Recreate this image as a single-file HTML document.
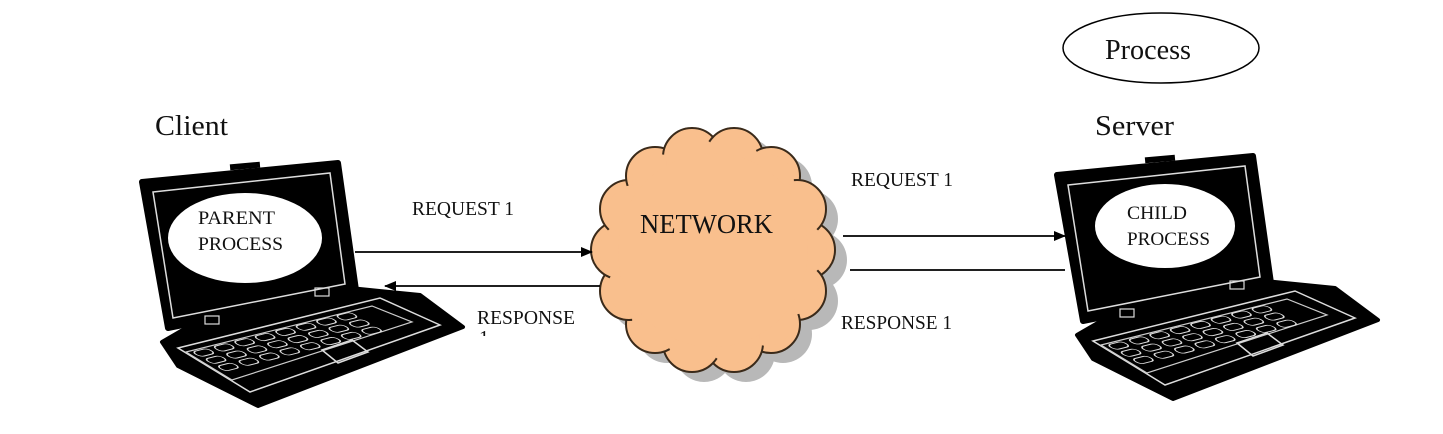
<!DOCTYPE html>
<html><head><meta charset="utf-8"><style>
html,body{margin:0;padding:0;background:#fff;}
svg{display:block;}
text{font-family:"Liberation Serif",serif;fill:#111;}
</style></head><body>
<svg width="1443" height="434" viewBox="0 0 1443 434" xmlns="http://www.w3.org/2000/svg">
<defs>
<marker id="ah" markerWidth="12" markerHeight="10" refX="11" refY="5" orient="auto" markerUnits="userSpaceOnUse">
<path d="M0,0 L12,5 L0,10 Z" fill="#000"/>
</marker>
<g id="laptop">
  <path d="M200,320 L350,288 L420,295 L463,327 L258,406 L178,366 L162,342 Z" fill="#000" stroke="#000" stroke-width="4" stroke-linejoin="round"/>
  <path d="M178,348 L380,298 L440,325 L250,392 Z" fill="none" stroke="#ddd" stroke-width="1.5"/>
  <path d="M186,352 L372,306 L412,322 L232,380 Z" fill="none" stroke="#ccc" stroke-width="1.2"/>
  <g transform="matrix(0.93,-0.235,0.95,0.55,192,352)" fill="none" stroke="#ddd" stroke-width="1.3">
    <rect x="0" y="0" width="16" height="9" rx="4"/><rect x="22" y="0" width="16" height="9" rx="4"/><rect x="44" y="0" width="16" height="9" rx="4"/><rect x="66" y="0" width="16" height="9" rx="4"/><rect x="88" y="0" width="16" height="9" rx="4"/><rect x="110" y="0" width="16" height="9" rx="4"/><rect x="132" y="0" width="16" height="9" rx="4"/><rect x="154" y="0" width="16" height="9" rx="4"/>
    <rect x="0" y="13" width="16" height="9" rx="4"/><rect x="22" y="13" width="16" height="9" rx="4"/><rect x="44" y="13" width="16" height="9" rx="4"/><rect x="66" y="13" width="16" height="9" rx="4"/><rect x="88" y="13" width="16" height="9" rx="4"/><rect x="110" y="13" width="16" height="9" rx="4"/><rect x="132" y="13" width="16" height="9" rx="4"/><rect x="154" y="13" width="16" height="9" rx="4"/>
    <rect x="0" y="26" width="16" height="9" rx="4"/><rect x="22" y="26" width="16" height="9" rx="4"/><rect x="44" y="26" width="16" height="9" rx="4"/><rect x="66" y="26" width="16" height="9" rx="4"/><rect x="88" y="26" width="16" height="9" rx="4"/><rect x="110" y="26" width="16" height="9" rx="4"/><rect x="132" y="26" width="16" height="9" rx="4"/><rect x="154" y="26" width="16" height="9" rx="4"/>
  </g>
  <path d="M322,350 L352,340 L368,352 L338,363 Z" fill="none" stroke="#ddd" stroke-width="1.5"/>
  <path d="M142,182 L338,163 L356,290 L168,328 Z" fill="#000" stroke="#000" stroke-width="6" stroke-linejoin="round"/>
  <rect x="230" y="163" width="30" height="6" fill="#000" transform="rotate(-5 245 166)"/>
  <path d="M153,192 L330,173 L345,284 L173,318 Z" fill="none" stroke="#ddd" stroke-width="1.5"/>
  <rect x="205" y="316" width="14" height="8" fill="none" stroke="#ddd" stroke-width="1.2"/>
  <rect x="315" y="288" width="14" height="8" fill="none" stroke="#ddd" stroke-width="1.2"/>
</g>
<g id="bumps">
  <circle cx="806" cy="250" r="29"/><circle cx="797" cy="291" r="29"/><circle cx="771" cy="324" r="29"/><circle cx="734" cy="343" r="29"/>
  <circle cx="692" cy="343" r="29"/><circle cx="655" cy="324" r="29"/><circle cx="629" cy="291" r="29"/><circle cx="620" cy="250" r="29"/>
  <circle cx="629" cy="209" r="29"/><circle cx="655" cy="176" r="29"/><circle cx="692" cy="157" r="29"/><circle cx="734" cy="157" r="29"/>
  <circle cx="771" cy="176" r="29"/><circle cx="797" cy="209" r="29"/>
</g>
</defs>

<ellipse cx="1161" cy="48" rx="98" ry="35" fill="#fff" stroke="#000" stroke-width="1.5"/>
<text x="1105" y="59" font-size="29" textLength="86" lengthAdjust="spacingAndGlyphs">Process</text>

<text x="155" y="135" font-size="28" textLength="73" lengthAdjust="spacingAndGlyphs">Client</text>
<text x="1095" y="135" font-size="28" textLength="79" lengthAdjust="spacingAndGlyphs">Server</text>

<use href="#laptop"/>
<ellipse cx="245" cy="238" rx="77" ry="45" fill="#fff"/>
<text x="198" y="224" font-size="19" textLength="77" lengthAdjust="spacingAndGlyphs">PARENT</text>
<text x="198" y="250" font-size="19" textLength="85" lengthAdjust="spacingAndGlyphs">PROCESS</text>

<use href="#laptop" transform="translate(915,-7)"/>
<ellipse cx="1165" cy="226" rx="70" ry="42" fill="#fff"/>
<text x="1127" y="219" font-size="19" textLength="60" lengthAdjust="spacingAndGlyphs">CHILD</text>
<text x="1127" y="245" font-size="19" textLength="83" lengthAdjust="spacingAndGlyphs">PROCESS</text>

<g fill="#8a8a8a" opacity="0.6" transform="translate(12,10)">
  <use href="#bumps"/>
  <ellipse cx="713" cy="250" rx="95" ry="97"/>
</g>
<g fill="#f9bf8d" stroke="#3a2a1a" stroke-width="2"><use href="#bumps"/></g>
<g fill="#f9bf8d">
  <g transform="translate(713,250) scale(0.93) translate(-713,-250)"><use href="#bumps"/></g>
  <ellipse cx="713" cy="250" rx="95" ry="97"/>
</g>
<text x="640" y="233" font-size="27" textLength="133" lengthAdjust="spacingAndGlyphs">NETWORK</text>

<line x1="355" y1="252" x2="592" y2="252" stroke="#000" stroke-width="1.8" marker-end="url(#ah)"/>
<line x1="600" y1="286" x2="385" y2="286" stroke="#000" stroke-width="1.8" marker-end="url(#ah)"/>
<line x1="843" y1="236" x2="1065" y2="236" stroke="#000" stroke-width="1.8" marker-end="url(#ah)"/>
<line x1="850" y1="270" x2="1065" y2="270" stroke="#000" stroke-width="1.8"/>

<text x="412" y="215" font-size="20" textLength="102" lengthAdjust="spacingAndGlyphs">REQUEST 1</text>
<text x="851" y="186" font-size="20" textLength="102" lengthAdjust="spacingAndGlyphs">REQUEST 1</text>
<text x="477" y="324" font-size="20" textLength="98" lengthAdjust="spacingAndGlyphs">RESPONSE</text>
<text x="479" y="344" font-size="20">1</text>
<rect x="470" y="336" width="40" height="12" fill="#fff"/>
<text x="841" y="329" font-size="20" textLength="111" lengthAdjust="spacingAndGlyphs">RESPONSE 1</text>
</svg>
</body></html>
